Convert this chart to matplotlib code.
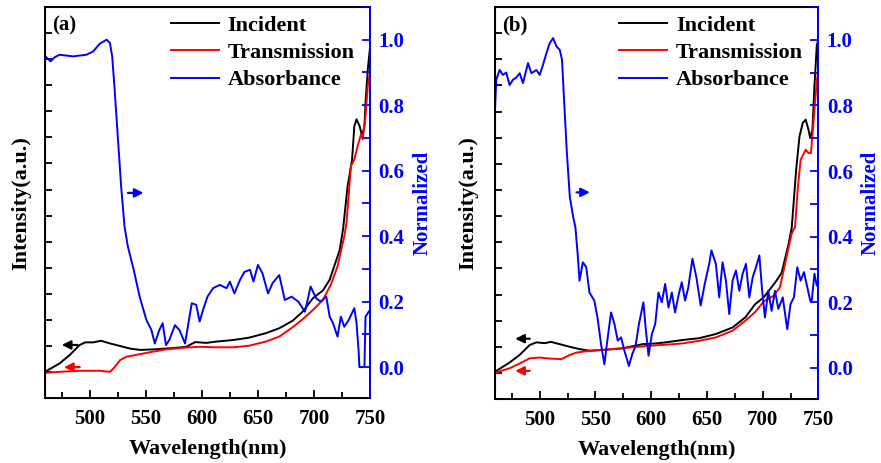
import numpy as np
import matplotlib
matplotlib.use("Agg")
import matplotlib.pyplot as plt
from matplotlib.ticker import MultipleLocator

plt.rcParams['font.family'] = ['Liberation Serif', 'DejaVu Serif']
plt.rcParams['font.weight'] = 'bold'

# ---------------- panel (a) data ----------------
wl_a_inc = [460, 473, 482, 491, 496, 503, 510, 518, 527, 536, 545, 556, 574, 586, 594, 604,
            613, 628, 642, 657, 669, 681, 690, 699, 708, 714, 718, 723, 726, 730, 734, 736,
            738, 740.7, 743, 745, 746, 748, 750]
int_a_inc = [0.101, 0.133, 0.165, 0.204, 0.214, 0.214, 0.220, 0.210, 0.200, 0.190, 0.185, 0.187,
             0.192, 0.197, 0.215, 0.212, 0.217, 0.223, 0.232, 0.249, 0.268, 0.297, 0.332, 0.383,
             0.413, 0.454, 0.505, 0.569, 0.650, 0.813, 0.915, 1.043, 1.069, 1.043, 1.005, 1.043,
             1.133, 1.260, 1.345]

wl_a_tr = [460, 473, 491, 509, 518, 522, 527, 533, 545, 556, 568, 586, 598, 613, 628, 642,
           657, 669, 681, 690, 699, 708, 715, 721, 727, 729, 733, 736, 739, 742, 743.5, 746,
           748, 750]
int_a_tr = [0.097, 0.101, 0.105, 0.105, 0.101, 0.118, 0.146, 0.159, 0.169, 0.178, 0.187, 0.194,
            0.197, 0.195, 0.195, 0.201, 0.217, 0.236, 0.272, 0.303, 0.338, 0.377, 0.435, 0.505,
            0.620, 0.672, 0.890, 0.915, 0.967, 1.012, 0.992, 1.082, 1.197, 1.249]

wl_a_abs = [461, 465, 469, 473, 485, 497, 503, 509, 515, 518, 520, 522, 525, 528, 531, 534,
            539, 544.5, 550.5, 555, 558, 562, 565, 568, 571, 576, 580, 585, 588, 591, 595,
            598, 601, 605, 610, 616, 622, 625, 629, 634, 638, 643, 646, 650, 654, 659, 663,
            669, 674, 680, 686, 692, 697, 702, 706, 711, 714, 717, 721, 724, 727, 731, 736,
            738, 740, 740.5, 745, 746, 749]
abs_a = [0.947, 0.934, 0.947, 0.954, 0.949, 0.954, 0.964, 0.988, 1.000, 0.990, 0.949, 0.857,
         0.704, 0.551, 0.429, 0.368, 0.300, 0.215, 0.144, 0.113, 0.072, 0.113, 0.134, 0.067,
         0.083, 0.128, 0.113, 0.072, 0.134, 0.195, 0.190, 0.139, 0.174, 0.215, 0.241, 0.251,
         0.241, 0.261, 0.225, 0.266, 0.291, 0.297, 0.261, 0.312, 0.287, 0.225, 0.256, 0.281,
         0.205, 0.215, 0.200, 0.169, 0.246, 0.210, 0.200, 0.215, 0.154, 0.134, 0.093, 0.154,
         0.123, 0.144, 0.180, 0.134, 0.040, 0.000, 0.000, 0.154, 0.170]

# ---------------- panel (b) data ----------------
wl_b_inc = [460, 473, 482, 491, 497, 504.5, 510, 518, 527, 536, 545, 556.5, 574, 592, 604,
            613, 628, 643, 658, 673, 684.5, 693, 701, 711, 717, 723, 726, 730, 733, 736,
            738.6, 741, 742.6, 744.6, 746.4, 748.5, 750]
int_b_inc = [0.105, 0.140, 0.169, 0.207, 0.217, 0.214, 0.219, 0.210, 0.200, 0.191, 0.185, 0.188,
             0.194, 0.210, 0.213, 0.217, 0.226, 0.233, 0.249, 0.274, 0.313, 0.362, 0.390, 0.445,
             0.483, 0.590, 0.654, 0.877, 1.005, 1.057, 1.069, 1.031, 0.999, 1.031, 1.197, 1.351,
             1.380]

wl_b_tr = [460, 473, 482, 491, 500, 509, 519.5, 527, 533, 545, 562, 580, 598, 613, 628, 643,
           658, 673, 684.5, 693, 701, 710, 715.5, 720, 726, 729, 731.6, 734, 738.6, 741, 743.3,
           745.5, 748.5, 750]
int_b_tr = [0.101, 0.118, 0.136, 0.156, 0.159, 0.155, 0.153, 0.169, 0.178, 0.185, 0.190, 0.197,
            0.204, 0.208, 0.213, 0.223, 0.236, 0.262, 0.300, 0.332, 0.374, 0.396, 0.428, 0.517,
            0.633, 0.659, 0.813, 0.915, 0.954, 0.941, 0.941, 1.057, 1.217, 1.260]

wl_b_abs = [460, 461, 464, 467, 470, 473, 476, 479, 482, 485, 489.5, 492.5, 497, 500, 503, 506,
            509, 512, 515, 518, 520, 522, 524.4, 527, 530, 532, 534, 535.7, 538.7, 541.7, 544.6,
            549, 552, 555, 558, 561, 564, 567, 570, 573, 576, 580, 583, 586, 589, 593, 595,
            597.6, 600.6, 603.6, 606.5, 609.5, 612.5, 615.5, 618.5, 621.4, 624.4, 627.4, 630.4,
            633.3, 637, 640.5, 644.4, 648, 652, 654, 658, 661, 664, 667, 670, 673, 676, 679,
            682, 685, 688, 691, 694, 697, 699.5, 702, 705, 708, 711, 714, 718, 722, 725, 728,
            731, 734, 737, 740, 742.6, 744, 746.4, 748.5, 750]
abs_b = [0.796, 0.878, 0.908, 0.893, 0.900, 0.862, 0.878, 0.885, 0.898, 0.868, 0.929, 0.898,
         0.908, 0.893, 0.924, 0.959, 0.990, 1.005, 0.980, 0.969, 0.939, 0.806, 0.653, 0.521,
         0.460, 0.429, 0.348, 0.266, 0.322, 0.307, 0.230, 0.205, 0.149, 0.072, 0.011, 0.093,
         0.169, 0.134, 0.083, 0.093, 0.052, 0.006, 0.042, 0.067, 0.134, 0.200, 0.123, 0.037,
         0.103, 0.134, 0.230, 0.200, 0.256, 0.184, 0.230, 0.169, 0.220, 0.261, 0.205, 0.246,
         0.333, 0.276, 0.190, 0.256, 0.317, 0.358, 0.317, 0.215, 0.322, 0.266, 0.164, 0.266,
         0.297, 0.235, 0.287, 0.317, 0.215, 0.276, 0.307, 0.343, 0.235, 0.154, 0.235, 0.174,
         0.235, 0.180, 0.215, 0.118, 0.195, 0.215, 0.307, 0.266, 0.292, 0.246, 0.205, 0.205,
         0.287, 0.251, 0.260]

# arrow heads/tails (nm, value) per panel: black, red, blue
arrows_a = [((475, 0.204), (489, 0.204)), ((477, 0.119), (491, 0.119)), ((548, 0.532), (534, 0.532))]
arrows_b = [((478, 0.231), (491, 0.231)), ((478, 0.108), (491, 0.108)), ((545, 0.535), (533, 0.535))]

BLUE = '#0000ff'
FS = 15

fig = plt.figure(figsize=(8.81, 4.63), dpi=100)


def draw_panel(rect, wl_inc, inc, wl_tr, tr, wl_abs, ab, arrows, tag, ylpad):
    ax = fig.add_axes(rect)
    l1, = ax.plot(wl_inc, inc, color='black', lw=1.4, label='Incident')
    l2, = ax.plot(wl_tr, tr, color='#ff0000', lw=1.4, label='Transmission')
    ax.set_xlim(460, 750)
    ax.set_ylim(0, 1.5)
    ax.xaxis.set_major_locator(MultipleLocator(50))
    ax.xaxis.set_minor_locator(MultipleLocator(25))
    ax.yaxis.set_major_locator(MultipleLocator(0.1))
    ax.tick_params(axis='both', which='both', direction='in', width=1.3)
    ax.tick_params(axis='x', which='major', length=6, labelsize=FS, pad=8)
    ax.tick_params(axis='x', which='minor', length=4)
    ax.tick_params(axis='y', length=5, labelleft=False)
    for s in ax.spines.values():
        s.set_linewidth(1.4)
    ax.set_xlabel('Wavelength(nm)', fontsize=FS + 1, fontweight='bold', labelpad=7)
    ax.set_ylabel('Intensity(a.u.)', fontsize=FS + 1, fontweight='bold', labelpad=ylpad)

    ax2 = ax.twinx()
    l3, = ax2.plot(wl_abs, ab, color=BLUE, lw=1.4, label='Absorbance')
    ax2.set_ylim(-0.095, 1.10)
    ax2.yaxis.set_major_locator(MultipleLocator(0.2))
    ax2.yaxis.set_minor_locator(MultipleLocator(0.1))
    ax2.tick_params(axis='y', which='both', direction='in', colors=BLUE, width=1.3)
    ax2.tick_params(axis='y', which='major', length=6, labelsize=FS, pad=6)
    ax2.tick_params(axis='y', which='minor', length=6)
    for lab in ax2.get_yticklabels():
        lab.set_fontweight('bold')
    ax2.yaxis.set_major_formatter(plt.FormatStrFormatter('%.1f'))
    ax2.spines['right'].set_color(BLUE)
    ax2.spines['right'].set_linewidth(1.4)
    ax2.set_ylabel('Normalized', color=BLUE, fontsize=FS, fontweight='bold', labelpad=6)

    (bh, bt), (rh, rt), (uh, ut) = arrows
    for a, head, tail, c in ((ax, bh, bt, 'black'), (ax, rh, rt, '#ff0000'), (ax2, uh, ut, BLUE)):
        a.annotate('', xy=head, xytext=tail,
                   arrowprops=dict(arrowstyle='-|>', color=c, lw=1.6, mutation_scale=13,
                                   shrinkA=0, shrinkB=0))

    ax.text(0.022, 0.952, tag, transform=ax.transAxes, fontsize=FS, fontweight='bold',
            va='center', ha='left')

    ax.legend(handles=[l1, l2, l3], loc='upper right', bbox_to_anchor=(1.0, 1.018),
              frameon=False, fontsize=FS + 1, handlelength=2.15, handletextpad=0.4,
              labelspacing=0.3, borderaxespad=0.3)
    return ax, ax2


draw_panel([0.051, 0.140, 0.369, 0.845], wl_a_inc, int_a_inc, wl_a_tr, int_a_tr,
           wl_a_abs, abs_a, arrows_a, '(a)', 10)
draw_panel([0.562, 0.138, 0.367, 0.847], wl_b_inc, int_b_inc, wl_b_tr, int_b_tr,
           wl_b_abs, abs_b, arrows_b, '(b)', 12)

fig.savefig('out.png', dpi=100)
